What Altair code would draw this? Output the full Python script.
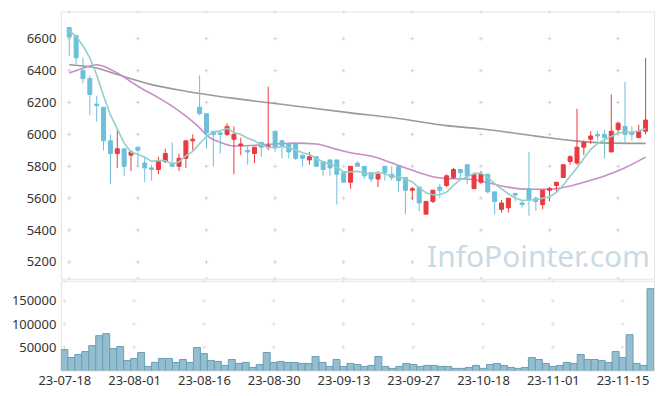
import altair as alt
import pandas as pd

# ---------------- data ----------------
dates = [
    "23-07-18", "23-07-19", "23-07-20", "23-07-21", "23-07-24", "23-07-25", "23-07-26", "23-07-27", "23-07-28", "23-07-31",
    "23-08-01", "23-08-02", "23-08-03", "23-08-04", "23-08-07", "23-08-08", "23-08-09", "23-08-10", "23-08-11", "23-08-14",
    "23-08-16", "23-08-17", "23-08-18", "23-08-21", "23-08-22", "23-08-23", "23-08-24", "23-08-25", "23-08-28", "23-08-29",
    "23-08-30", "23-08-31", "23-09-01", "23-09-04", "23-09-05", "23-09-06", "23-09-07", "23-09-08", "23-09-11", "23-09-12",
    "23-09-13", "23-09-14", "23-09-15", "23-09-18", "23-09-19", "23-09-20", "23-09-21", "23-09-22", "23-09-25", "23-09-26",
    "23-09-27", "23-10-04", "23-10-05", "23-10-06", "23-10-10", "23-10-11", "23-10-12", "23-10-13", "23-10-16", "23-10-17",
    "23-10-18", "23-10-19", "23-10-20", "23-10-23", "23-10-24", "23-10-25", "23-10-26", "23-10-27", "23-10-30", "23-10-31",
    "23-11-01", "23-11-02", "23-11-03", "23-11-06", "23-11-07", "23-11-08", "23-11-09", "23-11-10", "23-11-13", "23-11-14",
    "23-11-15", "23-11-16", "23-11-17", "23-11-20", "23-11-21",
]

opens = [
    6670, 6620, 6400, 6350, 6190, 6170, 5960, 5880, 5910, 5870,
    5920, 5820, 5790, 5780, 5830, 5820, 5800, 5850, 5960, 6170,
    6130, 6020, 6010, 6000, 5970, 5930, 5900, 5880, 5950, 5920,
    6020, 5960, 5940, 5940, 5870, 5840, 5860, 5830, 5840, 5840,
    5760, 5700, 5820, 5800, 5760, 5720, 5800, 5750, 5800, 5730,
    5650, 5670, 5500, 5580, 5670, 5680, 5730, 5780, 5810, 5660,
    5700, 5750, 5640, 5530, 5540, 5630, 5570, 5660, 5600, 5560,
    5650, 5680, 5730, 5830, 5820, 5920, 5970, 6000, 6000, 5890,
    6030, 6050, 6010, 5980, 6020,
]
highs = [
    6670, 6620, 6480, 6370, 6240, 6170, 6000, 6030, 5910, 5900,
    5920, 5860, 5810, 5860, 5910, 5950, 5880, 5960, 6000, 6370,
    6130, 6020, 6010, 6070, 6050, 5980, 5930, 5920, 5950, 6300,
    6020, 5960, 5940, 5940, 5870, 5890, 5860, 5830, 5840, 5840,
    5760, 5800, 5830, 5800, 5760, 5770, 5800, 5800, 5800, 5730,
    5670, 5670, 5580, 5650, 5690, 5750, 5790, 5780, 5810, 5760,
    5770, 5750, 5640, 5590, 5600, 5630, 5590, 5890, 5610, 5650,
    5670, 5700, 5810, 5870, 6160, 5960, 6020, 6020, 6030, 6250,
    6080, 6330, 6050, 6060, 6480,
]
lows = [
    6490, 6440, 6320, 6120, 6080, 5900, 5690, 5790, 5740, 5770,
    5800, 5700, 5710, 5750, 5820, 5800, 5770, 5790, 5900, 6120,
    5910, 5800, 5880, 5990, 5750, 5870, 5810, 5820, 5860, 5900,
    5890, 5850, 5850, 5840, 5800, 5810, 5800, 5740, 5740, 5560,
    5700, 5660, 5800, 5720, 5700, 5670, 5710, 5710, 5640, 5500,
    5590, 5520, 5500, 5570, 5600, 5670, 5720, 5720, 5690, 5660,
    5690, 5630, 5500, 5510, 5510, 5580, 5540, 5490, 5520, 5530,
    5580, 5640, 5730, 5810, 5810, 5870, 5940, 5960, 5850, 5890,
    6010, 5940, 5960, 5980, 6000,
]
closes = [
    6610, 6480, 6350, 6250, 6180, 5960, 5880, 5910, 5800, 5890,
    5900, 5790, 5780, 5830, 5880, 5800, 5850, 5960, 5970, 6130,
    6010, 6000, 6000, 6050, 6000, 5940, 5890, 5920, 5920, 5930,
    5920, 5930, 5890, 5850, 5850, 5860, 5800, 5780, 5790, 5750,
    5700, 5800, 5800, 5740, 5720, 5750, 5760, 5730, 5710, 5650,
    5660, 5570, 5580, 5650, 5650, 5740, 5780, 5760, 5740, 5750,
    5750, 5640, 5580, 5570, 5600, 5620, 5560, 5590, 5580, 5650,
    5660, 5700, 5810, 5860, 5920, 5950, 5990, 5990, 5980, 6020,
    6070, 6000, 6000, 6020, 6090,
]
volumes = [
    45000, 28000, 34400, 40800, 53600, 75000, 79300, 47200, 51500, 21600,
    25900, 38700, 8700, 17300, 25900, 25900, 17300, 23700, 17300, 49400,
    36500, 21600, 19400, 10900, 23700, 15200, 17300, 6600, 13000, 38700,
    17300, 19400, 17300, 17300, 15200, 15200, 30100, 17300, 8700, 23700,
    8700, 15200, 13000, 8700, 10900, 30100, 8700, 4500, 8700, 15200,
    13000, 8700, 10900, 10900, 8700, 8700, 4500, 4500, 6600, 10900,
    4500, 13000, 15200, 10900, 6600, 4500, 6600, 28000, 23700, 15200,
    8700, 10900, 17300, 15200, 34400, 23700, 23700, 21600, 17300, 40800,
    28000, 77100, 15200, 10900, 176100,
]
ma5 = [
    6650, 6615, 6555, 6480, 6372, 6242, 6122, 6034, 5945, 5888,
    5876, 5857, 5831, 5837, 5835, 5815, 5829, 5866, 5894, 5943,
    5986, 6015, 6022, 6038, 6012, 5999, 5976, 5960, 5934, 5920,
    5915, 5924, 5917, 5902, 5885, 5874, 5849, 5828, 5815, 5796,
    5765, 5765, 5769, 5758, 5751, 5762, 5752, 5739, 5734, 5721,
    5702, 5664, 5634, 5622, 5622, 5638, 5680, 5716, 5734, 5754,
    5757, 5729, 5692, 5658, 5628, 5601, 5586, 5589, 5590, 5600,
    5609, 5637, 5681, 5737, 5791, 5849, 5906, 5942, 5967, 5987,
    6010, 6012, 6014, 6022, 6035,
]
# 20-day MA read at sample bars
ma20_idx = [0, 2, 4, 7, 10, 13, 15, 17, 19, 20, 22, 24, 27, 30, 33, 36, 39, 41, 44, 46, 48, 51, 53, 55, 58, 60, 63, 67, 70, 73, 75, 78, 81, 84]
ma20_val = [6385, 6415, 6437, 6385, 6302, 6229, 6177, 6114, 6041, 5995, 5950, 5927, 5932, 5940, 5945, 5940, 5906, 5885, 5864, 5837, 5805, 5760, 5735, 5723, 5720, 5708, 5677, 5656, 5656, 5677, 5700, 5739, 5791, 5858]
# long MA read at sample bars
mal_idx = [0, 4, 7, 12, 17, 24, 32, 41, 48, 55, 60, 68, 74, 81, 84]
mal_val = [6437, 6416, 6375, 6312, 6271, 6226, 6183, 6135, 6100, 6055, 6035, 5989, 5958, 5944, 5944]

price_ticks = [5200, 5400, 5600, 5800, 6000, 6200, 6400, 6600]
vol_ticks = [50000, 100000, 150000]
price_domain = [5095, 6770]
vol_domain = [0, 193300]

# ---------------- styling ----------------
UP = "#eb3a3f"
DOWN = "#6cc0da"
FONT = "Noto Sans"
GRID = "#d4d4d4"
LABEL = "#333333"

n = len(dates)
df = pd.DataFrame({
    "i": list(range(n)), "date": dates, "open": opens, "high": highs,
    "low": lows, "close": closes, "volume": volumes, "ma5": ma5,
})
df["dir"] = ["up" if c >= o else "down" for o, c in zip(opens, closes)]
ma20_df = pd.DataFrame({"i": ma20_idx, "v": ma20_val})
mal_df = pd.DataFrame({"i": mal_idx, "v": mal_val})

x_ticks = list(range(0, n, 10))
label_expr = "[" + ",".join("'%s'" % dates[t] for t in x_ticks) + "][round(datum.value / 10)]"

xs = alt.Scale(domain=[-0.5, n - 0.5], nice=False, zero=False)
ps = alt.Scale(domain=price_domain, nice=False, zero=False)
vs = alt.Scale(domain=vol_domain, nice=False, zero=True)
dir_scale = alt.Scale(domain=["up", "down"], range=[UP, DOWN])

cross_shape = "M-1,0L1,0M0,-1L0,1"

price_cross = pd.DataFrame([(x, y) for x in x_ticks for y in price_ticks + price_domain], columns=["x", "y"])
vol_cross = pd.DataFrame([(x, y) for x in x_ticks for y in vol_ticks + [vol_domain[1]]], columns=["x", "y"])

W = 595

price_axis = alt.Axis(values=price_ticks, grid=False, ticks=False, domain=False, format="d",
                      labelOverlap=False, labelFontSize=13, labelColor=LABEL, labelFont=FONT,
                      labelPadding=5)


def PX(field):
    return alt.X(field, scale=xs, axis=None, title=None)


def PY(field):
    return alt.Y(field, scale=ps, axis=price_axis, title=None)


p_cross = alt.Chart(price_cross).mark_point(shape=cross_shape, size=16, filled=False,
                                             stroke=GRID, strokeWidth=1, opacity=1, clip=True).encode(
    x=PX("x:Q"), y=PY("y:Q"))

wicks = alt.Chart(df).mark_rule(strokeWidth=1, clip=True).encode(
    x=PX("i:Q"), y=PY("low:Q"), y2="high:Q",
    stroke=alt.Stroke("dir:N", scale=dir_scale, legend=None),
)
bodies = alt.Chart(df).mark_bar(width=4, strokeWidth=1, clip=True).encode(
    x=PX("i:Q"), y=PY("open:Q"), y2="close:Q",
    fill=alt.Fill("dir:N", scale=dir_scale, legend=None),
    stroke=alt.Stroke("dir:N", scale=dir_scale, legend=None),
)

line_long = alt.Chart(mal_df).mark_line(color="#9a9a9a", strokeWidth=1.6, interpolate="monotone", clip=True).encode(
    x=PX("i:Q"), y=PY("v:Q"))
line_20 = alt.Chart(ma20_df).mark_line(color="#c98cc6", strokeWidth=1.6, interpolate="monotone", clip=True).encode(
    x=PX("i:Q"), y=PY("v:Q"))
line_5 = alt.Chart(df).mark_line(color="#90d0c6", strokeWidth=1.6, clip=True).encode(
    x=PX("i:Q"), y=PY("ma5:Q"))

watermark = alt.Chart(pd.DataFrame({"t": ["InfoPointer.com"]})).mark_text(
    align="right", baseline="alphabetic", fontSize=30, font=FONT, color="#c9dae5",
).encode(text="t:N", x=alt.value(591), y=alt.value(256))

price = alt.layer(p_cross, watermark, line_long, line_20, wicks, bodies, line_5).properties(width=W, height=268)

vol_axis = alt.Axis(values=vol_ticks, grid=False, ticks=False, domain=False, format="d",
                    labelOverlap=False, labelFontSize=13, labelColor=LABEL, labelFont=FONT, labelPadding=5)
x_axis = alt.Axis(values=x_ticks, labelExpr=label_expr, grid=False, ticks=False, domain=False,
                  labelOverlap=False, labelFontSize=13, labelColor=LABEL, labelFont=FONT,
                  labelPadding=4, labelFlush=False)

v_cross = alt.Chart(vol_cross).mark_point(shape=cross_shape, size=16, filled=False,
                                           stroke=GRID, strokeWidth=1, clip=True).encode(
    x=alt.X("x:Q", scale=xs, axis=x_axis, title=None),
    y=alt.Y("y:Q", scale=vs, axis=vol_axis, title=None),
)
vbars = alt.Chart(df).transform_calculate(
    x0="datum.i - 0.5", x1="datum.i + 0.5"
).mark_bar(fill="#94bdd0", stroke="#6a9eb7", strokeWidth=1, clip=True).encode(
    x=alt.X("x0:Q", scale=xs, axis=x_axis, title=None),
    x2="x1:Q",
    y=alt.Y("volume:Q", scale=vs, axis=vol_axis, title=None),
    y2=alt.datum(0),
)

volume = alt.layer(v_cross, vbars).properties(width=W, height=90)

chart = alt.vconcat(price, volume, spacing=0).configure_view(
    stroke="#e4e4e4", strokeWidth=1
).properties(
    padding={"left": 2, "top": 2, "right": 2, "bottom": 0},
    background="white",
)

chart.save("out.html", embed_options={"renderer": "svg", "actions": False})
